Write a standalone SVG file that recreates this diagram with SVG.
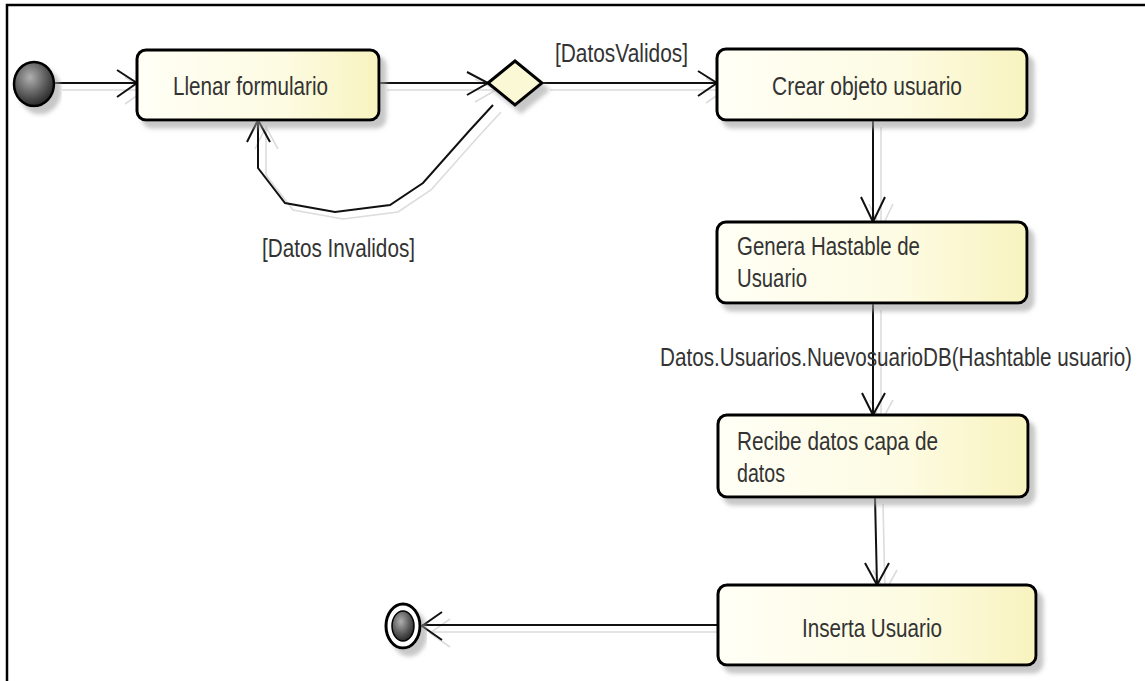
<svg xmlns="http://www.w3.org/2000/svg" width="1145" height="681" viewBox="0 0 1145 681">
  <defs>
    <linearGradient id="actFill" x1="0" y1="0" x2="1" y2="0">
      <stop offset="0" stop-color="#fffff6"/>
      <stop offset="0.6" stop-color="#fdfbe2"/>
      <stop offset="1" stop-color="#f8f3bf"/>
    </linearGradient>
    <radialGradient id="ballFill" cx="0.4" cy="0.35" r="0.7">
      <stop offset="0" stop-color="#b0b0b0"/>
      <stop offset="0.6" stop-color="#585858"/>
      <stop offset="1" stop-color="#222"/>
    </radialGradient>
    <filter id="shadow" x="-10%" y="-10%" width="130%" height="140%">
      <feDropShadow dx="6" dy="7" stdDeviation="2" flood-color="#9a9a9a" flood-opacity="0.55"/>
    </filter>
    <!-- connector geometry, drawn twice: a pale offset copy and the line itself -->
    <path id="c1" d="M54,83 H137 M117,70 L137,83 L117,97"/>
    <path id="c2" d="M379,83 H488 M467,72 L488,83 L467,95"/>
    <path id="c3" d="M542,83 H717 M698,71 L717,83 L698,96"/>
    <path id="c4" d="M493,105 L470,130 L423,183 L390,205 L335,212 L285,203 L258,168 L258,120 M247,142 L258,120 L270,142"/>
    <path id="c5" d="M873,120 V222 M861,197 L873,222 L885,197"/>
    <path id="c6" d="M873,303 V415 M862,393 L873,415 L885,393"/>
    <path id="c7" d="M875,497 L877,585 M865,563 L877,585 L889,563"/>
    <path id="c8" d="M718,625 H422 M442,612 L422,626 L442,640"/>
  </defs>
  <style>
    .act { fill: url(#actFill); stroke: #000; stroke-width: 3; filter: url(#shadow); }
    .lbl { font-family: "Liberation Sans", Arial, sans-serif; font-size: 25px; fill: #333; }
    .ghost { fill: none; stroke: #dcdcdc; stroke-width: 1.6; }
    .edge { fill: none; stroke: #111; stroke-width: 2; stroke-linejoin: miter; }
    .frame { fill: none; stroke: #000; stroke-width: 2.5; }
  </style>

  <rect width="1145" height="681" fill="#fff"/>
  <path class="frame" d="M7,681 V5 H1145"/>

  <g id="connectors">
    <g class="ghost" transform="translate(8,7)">
      <use href="#c1"/><use href="#c2"/><use href="#c3"/><use href="#c4"/>
      <use href="#c5"/><use href="#c6"/><use href="#c7"/><use href="#c8"/>
    </g>
    <g class="edge">
      <use href="#c1"/><use href="#c2"/><use href="#c3"/><use href="#c4"/>
      <use href="#c5"/><use href="#c6"/><use href="#c7"/><use href="#c8"/>
    </g>
    <text class="lbl" x="555" y="62" textLength="133" lengthAdjust="spacingAndGlyphs">[DatosValidos]</text>
    <text class="lbl" x="262" y="257" textLength="153" lengthAdjust="spacingAndGlyphs">[Datos Invalidos]</text>
    <text class="lbl" x="660" y="366" textLength="472" lengthAdjust="spacingAndGlyphs">Datos.Usuarios.NuevosuarioDB(Hashtable usuario)</text>
  </g>

  <g id="initial">
    <ellipse cx="34" cy="84" rx="20" ry="22" fill="url(#ballFill)" stroke="#000" stroke-width="2.5" filter="url(#shadow)"/>
  </g>

  <g id="llenar-formulario">
    <rect class="act" x="137" y="50" width="242" height="70" rx="9"/>
    <text class="lbl" x="173" y="95" textLength="155" lengthAdjust="spacingAndGlyphs">Llenar formulario</text>
  </g>

  <g id="decision">
    <polygon points="488,83 515,61 542,83 515,105" fill="#fbf8d6" stroke="#000" stroke-width="3" filter="url(#shadow)"/>
  </g>

  <g id="crear-objeto">
    <rect class="act" x="717" y="49" width="310" height="71" rx="9"/>
    <text class="lbl" x="772" y="95" textLength="190" lengthAdjust="spacingAndGlyphs">Crear objeto usuario</text>
  </g>

  <g id="genera-hashtable">
    <rect class="act" x="717" y="222" width="310" height="81" rx="9"/>
    <text class="lbl" x="737" y="255" textLength="183" lengthAdjust="spacingAndGlyphs">Genera Hastable de</text>
    <text class="lbl" x="737" y="287" textLength="70" lengthAdjust="spacingAndGlyphs">Usuario</text>
  </g>

  <g id="recibe-datos">
    <rect class="act" x="718" y="415" width="310" height="82" rx="9"/>
    <text class="lbl" x="737" y="450" textLength="201" lengthAdjust="spacingAndGlyphs">Recibe datos capa de</text>
    <text class="lbl" x="737" y="482" textLength="48" lengthAdjust="spacingAndGlyphs">datos</text>
  </g>

  <g id="inserta-usuario">
    <rect class="act" x="718" y="585" width="318" height="80" rx="9"/>
    <text class="lbl" x="802" y="637" textLength="140" lengthAdjust="spacingAndGlyphs">Inserta Usuario</text>
  </g>

  <g id="final">
    <ellipse cx="403" cy="626" rx="17" ry="22" fill="#fff" stroke="#000" stroke-width="3" filter="url(#shadow)"/>
    <ellipse cx="403" cy="626" rx="11" ry="15" fill="url(#ballFill)" stroke="#000" stroke-width="1.5"/>
  </g>
</svg>
